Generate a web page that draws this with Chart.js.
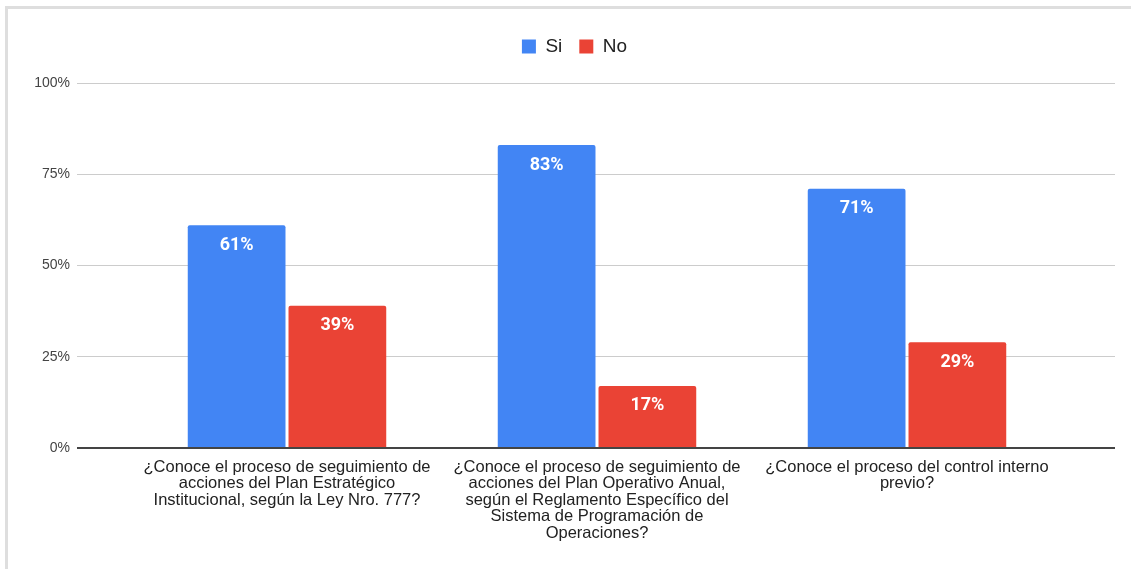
<!DOCTYPE html>
<html>
<head>
<meta charset="utf-8">
<script src="https://cdn.jsdelivr.net/npm/chart.js@4"></script>
<style>
  body { margin: 0; background: #fff; overflow: hidden; }
  #marco { position: absolute; left: 5px; top: 6px; width: 1200px; height: 700px; border: 3px solid #dedede; }
  #caja { position: absolute; left: 0; top: 0; width: 1131px; height: 569px; }
</style>
</head>
<body>
<div id="marco"></div>
<div id="caja"><canvas id="grafico"></canvas></div>
<script>
// Preguntas (eje X), ya partidas en líneas como en la imagen
const preguntas = [
  ['¿Conoce el proceso de seguimiento de', 'acciones del Plan Estratégico', 'Institucional, según la Ley Nro. 777?'],
  ['¿Conoce el proceso de seguimiento de', 'acciones del Plan Operativo Anual,', 'según el Reglamento Específico del', 'Sistema de Programación de', 'Operaciones?'],
  ['¿Conoce el proceso del control interno', 'previo?']
];
const valoresSi = [61, 83, 71];
const valoresNo = [39, 17, 29];
const etiquetasY = ['0%', '25%', '50%', '75%', '100%'];

// Etiquetas blancas dentro de cada barra
const etiquetasBarras = {
  id: 'etiquetasBarras',
  afterDatasetsDraw(chart) {
    const ctx = chart.ctx;
    ctx.save();
    ctx.fillStyle = '#fff';
    ctx.font = 'bold 18px Roboto';
    ctx.textAlign = 'center';
    ctx.textBaseline = 'middle';
    chart.data.datasets.forEach((ds, i) => {
      chart.getDatasetMeta(i).data.forEach((barra, j) => {
        ctx.fillText(ds.data[j] + '%', barra.x, barra.y + 20);
      });
    });
    ctx.restore();
  }
};

const colorLinea = c => c.tick.value === 0 ? '#444' : '#cccccc';
const anchoLinea = c => c.tick.value === 0 ? 2 : 1;

new Chart(document.getElementById('grafico'), {
  type: 'bar',
  data: {
    labels: preguntas,
    datasets: [
      { label: 'Si', data: valoresSi, backgroundColor: '#4285f4', borderRadius: 2, borderSkipped: 'bottom' },
      { label: 'No', data: valoresNo, backgroundColor: '#ea4335', borderRadius: 2, borderSkipped: 'bottom' }
    ]
  },
  options: {
    responsive: true,
    maintainAspectRatio: false,
    animation: false,
    categoryPercentage: 0.65,
    barPercentage: 0.97,
    layout: { padding: { left: 34, right: 16, top: 20, bottom: 0 } },
    plugins: {
      tooltip: { enabled: false },
      legend: {
        position: 'top',
        labels: {
          boxWidth: 14, boxHeight: 14, padding: 17,
          color: '#222',
          font: { family: 'Liberation Sans, Arial', size: 19 }
        }
      }
    },
    scales: {
      x: {
        grid: { display: false },
        border: { display: false },
        ticks: {
          color: '#222', padding: 3, maxRotation: 0, autoSkip: false,
          font: { family: 'Liberation Sans, Arial', size: 16.5, lineHeight: 1.0 }
        },
        afterFit: s => { s.height = 121; }
      },
      xArriba: {
        position: 'top',
        grid: { display: false },
        border: { display: false },
        ticks: { display: false },
        afterFit: s => { s.height = 17; }
      },
      y: {
        min: 0, max: 100,
        ticks: {
          stepSize: 25, padding: 7, color: '#444',
          font: { family: 'Liberation Sans, Arial', size: 14 },
          callback: (v, i) => etiquetasY[i]
        },
        grid: { color: colorLinea, lineWidth: anchoLinea, tickLength: 55 },
        border: { display: false },
        afterFit: s => { s.width = 98; }
      },
      yDer: {
        position: 'right',
        min: 0, max: 100,
        ticks: { stepSize: 25, display: false },
        grid: { color: colorLinea, lineWidth: anchoLinea, tickLength: 53, drawOnChartArea: false },
        border: { display: false },
        afterFit: s => { s.width = 53; }
      }
    }
  },
  plugins: [etiquetasBarras]
});
</script>
</body>
</html>
